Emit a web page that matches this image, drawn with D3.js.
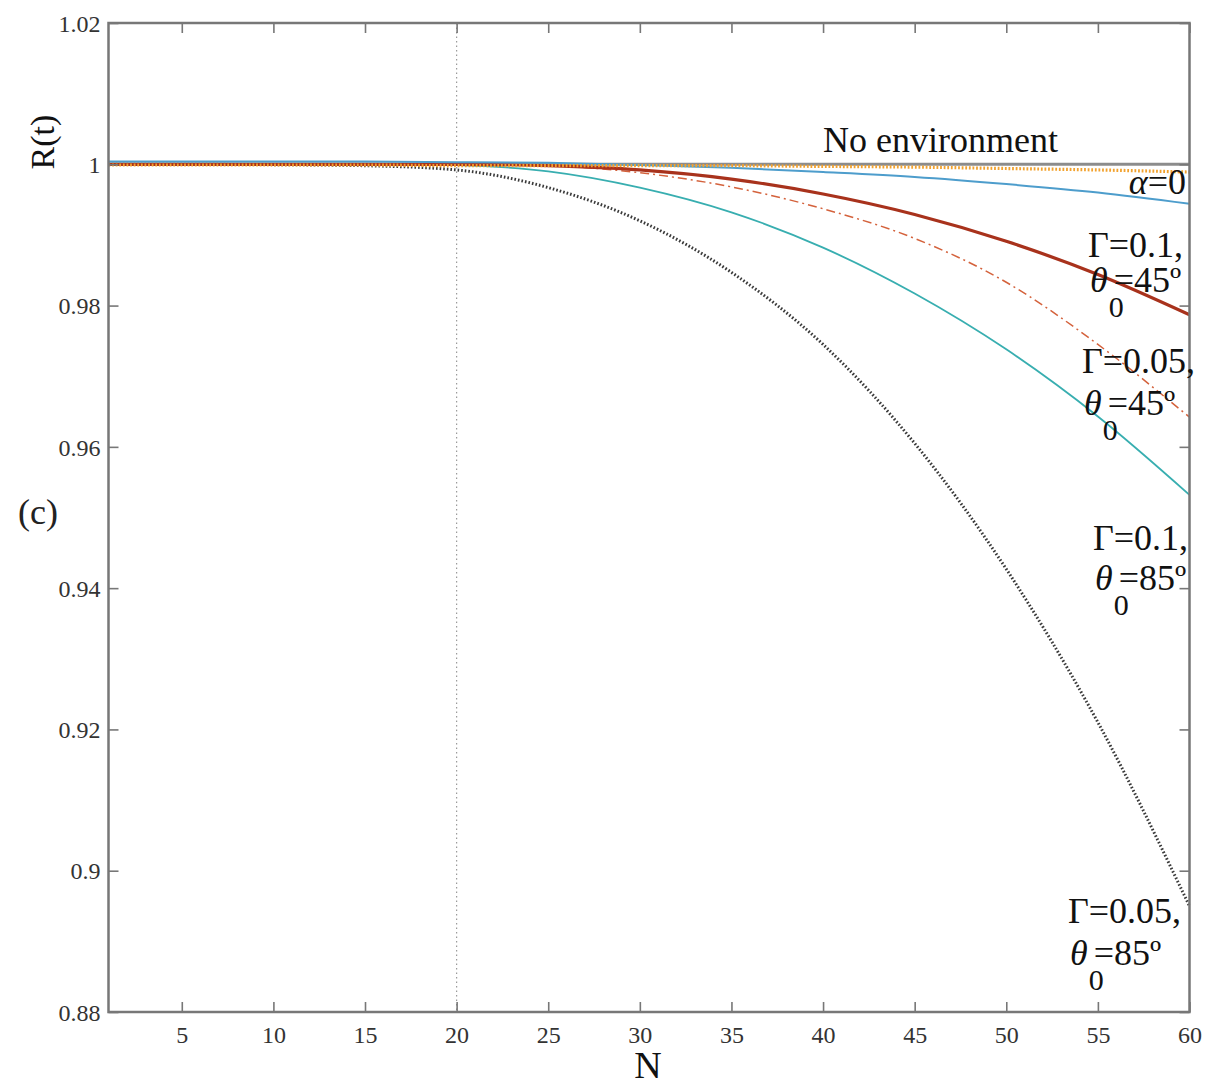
<!DOCTYPE html>
<html>
<head>
<meta charset="utf-8">
<script src="https://cdn.jsdelivr.net/npm/d3@7/dist/d3.min.js"></script>
<style>
  html, body { margin: 0; padding: 0; background: #fff; }
  svg { display: block; }
  text { font-family: "Liberation Serif", "Times New Roman", serif; }
</style>
</head>
<body>
<svg id="chart" width="1207" height="1088"></svg>
<script>
// Number of qubits N
const nValues = [1, 5, 10, 15, 20, 25, 30, 35, 40, 45, 50, 55, 60];

// Fidelity R(t) for each case
const noEnvironment = [1, 1, 1, 1, 1, 1, 1, 1, 1, 1, 1, 1, 1];
const orangeDotted  = [0.9999, 0.9999, 0.9999, 0.9999, 0.9998, 0.9998, 0.9998, 0.9998, 0.9997, 0.9996, 0.9994, 0.9992, 0.9989];
const alphaZero     = [1.0004, 1.0004, 1.0004, 1.0004, 1.0003, 1.0002, 0.9999, 0.9995, 0.9989, 0.9982, 0.9972, 0.9960, 0.9944];
const gamma01th45   = [1.0, 1.0, 1.0, 1.0, 1.0, 0.9998, 0.9992, 0.9979, 0.9958, 0.9929, 0.9891, 0.9844, 0.9787];
const gamma005th45  = [1.0, 1.0, 1.0, 1.0, 1.0, 0.9998, 0.9988, 0.9968, 0.9937, 0.9895, 0.9833, 0.9745, 0.9642];
const gamma01th85   = [1.0001, 1.0001, 1.0001, 1.0001, 0.9999, 0.9990, 0.9967, 0.9932, 0.9882, 0.9817, 0.9738, 0.9643, 0.9532];
const gamma005th85  = [1.0, 1.0, 0.99995, 0.9998, 0.9992, 0.9967, 0.9920, 0.9847, 0.9745, 0.9605, 0.9427, 0.9210, 0.8950];

const xTicks = [5, 10, 15, 20, 25, 30, 35, 40, 45, 50, 55, 60];
const yTicks = [0.88, 0.9, 0.92, 0.94, 0.96, 0.98, 1, 1.02];
const markerN = 20;

const svg = d3.select("#chart");
const plotLeft = 108.5, plotRight = 1189.5, plotTop = 23, plotBottom = 1012;

const x = d3.scaleLinear().domain([1, 60]).range([plotLeft, plotRight]);
const y = d3.scaleLinear().domain([0.88, 1.02]).range([plotBottom, plotTop]);

const axisColor = "#777";
const labelColor = "#333";
const serif = "'Liberation Serif', 'Times New Roman', serif";

// vertical dotted marker at N = 20
svg.append("line")
  .attr("x1", x(markerN)).attr("x2", x(markerN))
  .attr("y1", plotTop).attr("y2", plotBottom)
  .attr("stroke", "#9a9a9a").attr("stroke-width", 1.2)
  .attr("stroke-dasharray", "1.5,3");

const line = d3.line()
  .x((d, i) => x(nValues[i]))
  .y(d => y(d))
  .curve(d3.curveMonotoneX);

const series = [
  { values: noEnvironment, color: "#8c8c8c", width: 3, dash: null },
  { values: gamma005th85,  color: "#3a3a3a", width: 3, dash: "1.6,2" },
  { values: gamma01th85,   color: "#38aeb0", width: 1.8, dash: null },
  { values: gamma005th45,  color: "#d4623c", width: 1.5, dash: "9,4,2,4" },
  { values: gamma01th45,   color: "#a8321c", width: 3.2, dash: null },
  { values: alphaZero,     color: "#4d9dcc", width: 2, dash: null },
  { values: orangeDotted,  color: "#f2a22e", width: 3.2, dash: "1.8,1.8" }
];

series.forEach(s => {
  svg.append("path")
    .datum(s.values)
    .attr("d", line)
    .attr("fill", "none")
    .attr("stroke", s.color)
    .attr("stroke-width", s.width)
    .attr("stroke-dasharray", s.dash);
});

// axes with inward ticks on all four sides
const tickLen = 10;
const fmtY = d => String(+d.toFixed(2));

const gBottom = svg.append("g").attr("transform", `translate(0,${plotBottom})`)
  .call(d3.axisBottom(x).tickValues(xTicks).tickSizeInner(-tickLen).tickSizeOuter(0).tickPadding(14));
const gTop = svg.append("g").attr("transform", `translate(0,${plotTop})`)
  .call(d3.axisTop(x).tickValues(xTicks).tickSizeInner(-tickLen).tickSizeOuter(0).tickFormat(""));
const gLeft = svg.append("g").attr("transform", `translate(${plotLeft},0)`)
  .call(d3.axisLeft(y).tickValues(yTicks).tickSizeInner(-tickLen).tickSizeOuter(0).tickPadding(8).tickFormat(fmtY));
const gRight = svg.append("g").attr("transform", `translate(${plotRight},0)`)
  .call(d3.axisRight(y).tickValues(yTicks).tickSizeInner(-tickLen).tickSizeOuter(0).tickFormat(""));

[gBottom, gTop, gLeft, gRight].forEach(g => {
  g.attr("font-family", serif);
  g.select(".domain").remove();
  g.selectAll(".tick line").attr("stroke", axisColor).attr("stroke-width", 1.6);
  g.selectAll(".tick text")
    .attr("fill", labelColor)
    .style("font-family", serif)
    .style("font-size", "24px");
});
gLeft.selectAll(".tick text").attr("dy", "0.34em");

// plot frame
svg.append("rect")
  .attr("x", plotLeft).attr("y", plotTop)
  .attr("width", plotRight - plotLeft).attr("height", plotBottom - plotTop)
  .attr("fill", "none").attr("stroke", axisColor).attr("stroke-width", 2.5);

// axis titles
svg.append("text")
  .attr("transform", `translate(54,142) rotate(-90)`)
  .attr("text-anchor", "middle")
  .style("font-size", "34px").attr("fill", "#111")
  .text("R(t)");

svg.append("text")
  .attr("x", 18).attr("y", 524)
  .style("font-size", "36px").attr("fill", "#222")
  .text("(c)");

svg.append("text")
  .attr("x", 648).attr("y", 1078)
  .attr("text-anchor", "middle")
  .style("font-size", "38px").attr("fill", "#111")
  .text("N");

// curve annotations
const ann = svg.append("g").attr("fill", "#111").style("font-size", "36px");

ann.append("text").attr("x", 823).attr("y", 152).text("No environment");

ann.append("text").attr("x", 1186).attr("y", 194).attr("text-anchor", "end")
  .html('<tspan font-style="italic">α</tspan>=0');

function gammaTheta(x0, yG, yT, gamma, theta) {
  ann.append("text").attr("x", x0).attr("y", yG).text(`Γ=${gamma},`);
  const t = ann.append("text").attr("x", x0 + 2).attr("y", yT);
  t.append("tspan").attr("font-style", "italic").text("θ");
  t.append("tspan").attr("dy", 25).attr("dx", 1).style("font-size", "30px").text("0");
  t.append("tspan").attr("dy", -25).attr("dx", -10).text(`=${theta}º`);
}

gammaTheta(1088, 257, 292, "0.1", "45");
gammaTheta(1082, 373, 415, "0.05", "45");
gammaTheta(1093, 550, 590, "0.1", "85");
gammaTheta(1068, 923, 965, "0.05", "85");
</script>
</body>
</html>
